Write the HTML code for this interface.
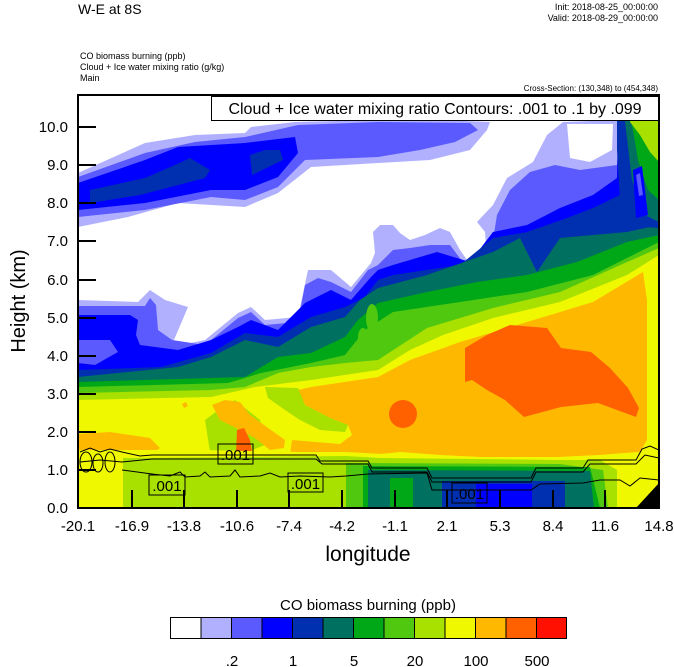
<!DOCTYPE html>
<html><head><meta charset="utf-8"><style>
html,body{margin:0;padding:0;background:#fff;}
svg{display:block;font-family:"Liberation Sans",Arial,sans-serif;}
</style></head><body>
<svg width="674" height="667" viewBox="0 0 674 667" xmlns="http://www.w3.org/2000/svg">
<defs><clipPath id="pc"><rect x="78" y="95" width="581" height="413"/></clipPath></defs>
<text x="78" y="14" font-size="14">W-E at 8S</text>
<text x="658" y="10" font-size="9" text-anchor="end">Init: 2018-08-25_00:00:00</text>
<text x="658" y="21" font-size="9" text-anchor="end">Valid: 2018-08-29_00:00:00</text>
<text x="80" y="59" font-size="9">CO biomass burning   (ppb)</text>
<text x="80" y="70" font-size="9">Cloud + Ice water mixing ratio   (g/kg)</text>
<text x="80" y="81" font-size="9">Main</text>
<text x="658" y="91" font-size="8" text-anchor="end">Cross-Section: (130,348) to (454,348)</text>

<g clip-path="url(#pc)">
<rect x="78" y="95" width="581" height="413" fill="#b0b0ff"/>
<!-- white -->
<polygon fill="#fff" points="78,95 625,95 620,120 563,122 547,135 533,162 507,178 493,205 477,222 485,232 487,258 467,260 460,250 450,232 440,228 425,235 410,240 400,233 393,225 380,225 373,232 375,253 371,263 351,287 331,270 308,270 298,317 265,320 251,307 238,313 205,340 171,347 188,307 165,300 150,290 138,302 78,300 78,227 128,217 178,203 245,207 278,193 311,167 378,163 430,160 470,150 487,130 490,122 440,120 378,120 295,122 251,127 245,133 195,135 145,143 78,173"/>
<polygon fill="#fff" points="567,124 613,124 612,150 590,162 570,158"/>
<!-- upper band -->
<polygon fill="#5a5aff" points="78,177 145,153 195,142 245,137 298,125 378,122 470,123 478,130 455,142 420,150 378,157 305,160 278,187 245,200 211,197 145,210 78,217"/>
<polygon fill="#0000ff" points="78,183 145,160 178,147 245,143 295,137 298,153 278,177 245,190 211,190 145,203 78,210"/>
<polygon fill="#0030b0" points="90,190 145,178 175,165 190,158 210,170 205,178 140,195 90,203"/>
<polygon fill="#0030b0" points="250,155 265,150 280,150 283,160 252,175"/>
<!-- levels -->
<polygon fill="#5a5aff" points="78,306 145,306 150,298 156,305 158,330 172,340 205,345 238,318 251,312 265,325 298,322 305,285 318,278 331,282 351,292 368,270 378,265 393,250 410,248 430,245 450,245 465,265 490,262 493,240 497,215 510,190 530,172 555,165 580,170 617,165 620,120 625,95 659,95 659,508 78,508"/>
<polygon fill="#0000ff" points="78,315 130,315 138,320 136,335 140,345 178,350 211,340 238,327 251,320 278,330 305,303 331,290 351,300 371,277 378,270 393,265 437,252 470,262 493,232 527,225 560,208 593,195 617,178 618,122 620,95 659,95 659,508 78,508"/>
<polygon fill="#5a5aff" points="78,340 110,340 118,352 95,365 78,363"/>
<polygon fill="#0030b0" points="78,370 161,367 211,353 245,333 278,337 311,317 345,307 365,297 378,280 393,275 460,265 493,238 527,232 567,218 593,208 620,195 630,180 640,150 645,120 650,95 659,95 659,508 78,508"/>
<polygon fill="#007060" points="78,377 178,367 211,357 245,340 278,347 311,327 345,317 360,300 378,288 427,275 493,252 520,238 537,272 560,238 593,235 627,232 659,225 659,508 78,508"/>
<polygon fill="#00a818" points="78,382 211,378 245,377 278,357 311,353 345,337 358,320 378,303 427,292 477,282 527,275 577,262 627,242 659,235 659,508 78,508"/>
<polygon fill="#50c810" points="78,387 228,383 261,373 311,363 345,355 365,330 393,312 460,302 527,292 593,275 659,242 659,508 78,508"/>
<ellipse cx="363" cy="337" rx="5" ry="9" fill="#50c810"/>
<ellipse cx="372" cy="318" rx="6" ry="14" fill="#50c810"/>
<polygon fill="#a8e000" points="78,393 211,390 245,387 278,373 311,367 345,363 378,360 427,328 493,308 560,292 627,262 659,248 659,508 78,508"/>
<polygon fill="#f0f800" points="78,400 211,397 255,387 311,380 378,370 410,350 443,335 493,318 560,302 627,275 659,255 659,508 78,508"/>
<!-- top-right column -->
<polygon fill="#0030b0" points="617,95 659,95 659,228 630,226 620,200 617,150"/>
<polygon fill="#007060" points="622,95 659,95 659,222 645,215 632,180 626,130"/>
<polygon fill="#00a818" points="627,95 659,95 659,200 648,190 638,160 632,125"/>
<polygon fill="#a8e000" points="632,95 659,95 659,162 650,152 640,135 630,122"/>
<polygon fill="#0000ff" points="633,170 642,166 648,215 636,218"/>
<polygon fill="#5a5aff" points="636,175 640,173 643,195 639,196"/>
<!-- lower-left yellow-green intrusion -->
<polygon fill="#a8e000" points="205,420 225,405 235,400 260,420 265,445 240,455 210,452"/>
<!-- orange -->
<polygon fill="#ffb800" points="298,390 311,387 378,377 410,360 460,342 527,322 593,302 643,272 647,300 647,440 640,452 600,455 560,457 500,458 440,455 400,452 370,455 340,455 300,452 290,455 292,440 340,444 352,435 348,425 330,418 305,405"/>
<polygon fill="#a8e000" points="265,387 298,388 305,405 330,418 348,425 345,432 320,430 300,420 285,410 268,398"/>
<polygon fill="#ffb800" points="78,434 110,432 150,438 160,448 150,455 78,455"/>
<polygon fill="#ffb800" points="212,405 225,400 240,402 250,415 285,440 284,448 270,450 255,438 240,430 220,420"/>
<polygon fill="#ffb800" points="182,404 186,402 188,406 184,408"/>
<!-- red-orange -->
<polygon fill="#ff6000" points="465,348 487,335 510,325 547,328 561,348 591,352 610,368 628,388 639,408 636,417 598,403 561,407 524,417 505,400 487,390 472,380 465,382"/>
<circle cx="403" cy="414" r="14" fill="#ff6000"/>
<polygon fill="#ff6000" points="237,430 244,428 250,440 252,452 236,453"/>
<!-- bottom low region -->
<polygon fill="#f0f800" points="78,450 200,450 300,452 346,452 400,455 480,457 560,457 600,455 640,452 650,445 659,440 659,508 78,508"/>
<polygon fill="#a8e000" points="123,458 346,456 380,458 560,460 600,460 617,470 617,508 123,508"/>
<polygon fill="#50c810" points="346,463 560,464 603,470 608,508 346,508"/>
<polygon fill="#00a818" points="363,466 590,467 600,508 363,508"/>
<polygon fill="#007060" points="368,470 590,471 594,508 368,508"/>
<rect x="390" y="478" width="23" height="30" fill="#00a818"/>
<rect x="442" y="481" width="123" height="27" fill="#0030b0"/>
<rect x="476" y="484" width="56" height="24" fill="#0000ff"/>
<polygon fill="#000" points="636,508 659,483 659,508"/>
<!-- contour lines -->
<g fill="none" stroke="#000" stroke-width="1">
<polyline points="80,452 90,448 100,452 110,449 122,452 140,456 152,455 316,455 320,461 368,461 372,468 427,468 432,478 531,478 536,468 583,468 588,460 636,460 642,449 650,446 659,450"/>
<polyline points="80,462 100,460 122,462 152,459 316,459 322,464 368,464 372,472 427,472 432,482 531,482 536,472 583,472 590,464 636,464 645,455 659,458"/>
<polyline points="122,470 152,474 170,476 180,472 185,477 200,476 205,472 210,477 230,476 235,470 240,477 260,476 270,473 280,477 300,476 330,477 346,476 368,474 427,473 432,490 531,490 540,484 583,483 600,480 620,480 630,486 640,478 659,480"/>
<ellipse cx="86" cy="462" rx="6" ry="10"/><ellipse cx="98" cy="463" rx="5" ry="9"/><ellipse cx="110" cy="462" rx="5" ry="10"/>
</g>
<g font-size="15" text-anchor="middle">
<rect x="218" y="444" width="35" height="20" fill="none" stroke="#000"/><text x="235.5" y="460">.001</text>
<rect x="149" y="475" width="36" height="20" fill="none" stroke="#000"/><text x="167" y="491">.001</text>
<rect x="288" y="473" width="35" height="19" fill="none" stroke="#000"/><text x="305.5" y="489">.001</text>
<rect x="452" y="483" width="35" height="20" fill="none" stroke="#000"/><text x="469.5" y="499">.001</text>
</g>
</g>
<!-- legend box -->
<rect x="211.5" y="96.5" width="447" height="24" fill="#fff" stroke="#000"/>
<text x="435" y="114" font-size="16" text-anchor="middle">Cloud + Ice water mixing ratio Contours: .001 to .1 by .099</text>
<!-- axes -->
<rect x="78" y="95" width="581" height="413" fill="none" stroke="#000" stroke-width="2"/>
<g stroke="#000" stroke-width="2">
<line x1="78" y1="127" x2="96" y2="127"/><line x1="78" y1="165" x2="96" y2="165"/><line x1="78" y1="203" x2="96" y2="203"/><line x1="78" y1="241" x2="96" y2="241"/><line x1="78" y1="280" x2="96" y2="280"/><line x1="78" y1="318" x2="96" y2="318"/><line x1="78" y1="356" x2="96" y2="356"/><line x1="78" y1="394" x2="96" y2="394"/><line x1="78" y1="432" x2="96" y2="432"/><line x1="78" y1="470" x2="96" y2="470"/>
<line x1="132" y1="508" x2="132" y2="490"/><line x1="184" y1="508" x2="184" y2="490"/><line x1="237" y1="508" x2="237" y2="490"/><line x1="289" y1="508" x2="289" y2="490"/><line x1="342" y1="508" x2="342" y2="490"/><line x1="395" y1="508" x2="395" y2="490"/><line x1="447" y1="508" x2="447" y2="490"/><line x1="500" y1="508" x2="500" y2="490"/><line x1="553" y1="508" x2="553" y2="490"/><line x1="605" y1="508" x2="605" y2="490"/>
</g>
<g font-size="15" text-anchor="end">
<text x="68" y="132">10.0</text><text x="68" y="170">9.0</text><text x="68" y="208">8.0</text><text x="68" y="246">7.0</text><text x="68" y="285">6.0</text><text x="68" y="323">5.0</text><text x="68" y="361">4.0</text><text x="68" y="399">3.0</text><text x="68" y="437">2.0</text><text x="68" y="475">1.0</text><text x="68" y="513">0.0</text>
</g>
<g font-size="15" text-anchor="middle">
<text x="78" y="531">-20.1</text><text x="132" y="531">-16.9</text><text x="184" y="531">-13.8</text><text x="237" y="531">-10.6</text><text x="289" y="531">-7.4</text><text x="342" y="531">-4.2</text><text x="395" y="531">-1.1</text><text x="447" y="531">2.1</text><text x="500" y="531">5.3</text><text x="553" y="531">8.4</text><text x="605" y="531">11.6</text><text x="659" y="531">14.8</text>
</g>
<text x="368" y="561" font-size="21" text-anchor="middle">longitude</text>
<text transform="translate(25,301) rotate(-90)" font-size="20" text-anchor="middle">Height (km)</text>
<!-- colorbar -->
<text x="368" y="610" font-size="15" text-anchor="middle">CO biomass burning  (ppb)</text>
<g stroke="#000" stroke-width="1">
<rect x="170.5" y="617.5" width="30.5" height="21" fill="#fff"/>
<rect x="201" y="617.5" width="30.5" height="21" fill="#b0b0ff"/>
<rect x="231.5" y="617.5" width="30.5" height="21" fill="#5a5aff"/>
<rect x="262" y="617.5" width="30.5" height="21" fill="#0000ff"/>
<rect x="292.5" y="617.5" width="30.5" height="21" fill="#0030b0"/>
<rect x="323" y="617.5" width="30.5" height="21" fill="#007060"/>
<rect x="353.5" y="617.5" width="30.5" height="21" fill="#00a818"/>
<rect x="384" y="617.5" width="30.5" height="21" fill="#50c810"/>
<rect x="414.5" y="617.5" width="30.5" height="21" fill="#a8e000"/>
<rect x="445" y="617.5" width="30.5" height="21" fill="#f0f800"/>
<rect x="475.5" y="617.5" width="30.5" height="21" fill="#ffb800"/>
<rect x="506" y="617.5" width="30.5" height="21" fill="#ff6000"/>
<rect x="536.5" y="617.5" width="30" height="21" fill="#ff1000"/>
</g>
<g font-size="15" text-anchor="middle">
<text x="232" y="666">.2</text><text x="293" y="666">1</text><text x="354" y="666">5</text><text x="415" y="666">20</text><text x="476" y="666">100</text><text x="537" y="666">500</text>
</g>
</svg>
</body></html>
